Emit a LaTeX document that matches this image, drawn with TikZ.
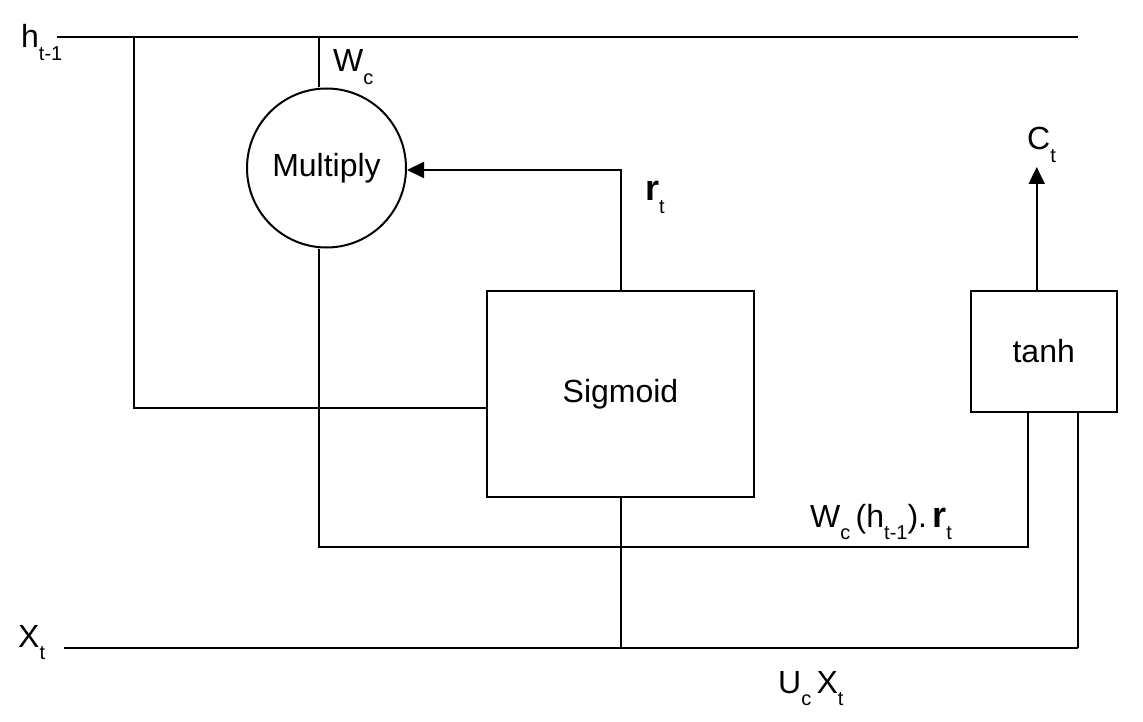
\documentclass[tikz,border=0pt]{standalone}
\usepackage{fontspec}
\setmainfont{Liberation Sans}
\usetikzlibrary{arrows.meta,positioning}
\newcommand{\sbs}[1]{\raisebox{-0.75ex}{\fontsize{20}{20}\selectfont #1}}
\newcommand{\rbig}{{\fontsize{36}{36}\selectfont\textbf{r}}}

\begin{document}
\begin{tikzpicture}[
  x=1pt,y=-1pt,
  every node/.style={font=\fontsize{32}{34}\selectfont},
  wire/.style={line width=2pt,color=black},
  gate/.style={draw,line width=2pt,minimum width=0pt,minimum height=0pt,inner sep=0pt},
  arr/.style={-{Triangle[length=17pt,width=16pt]},line width=2pt}
]
  \useasboundingbox (0,0) rectangle (1143,722);

  % blocks
  \node[gate,circle,minimum size=159pt] (mult) at (326.5,168) {Multiply};
  \node[gate,minimum width=267pt,minimum height=206pt] (sig) at (620.5,394) {Sigmoid};
  \node[gate,minimum width=146pt,minimum height=121pt] (tanhbox) at (1043.7,351.5) {tanh};

  % rails
  \coordinate (hin) at (57,37);
  \coordinate (hout) at (1078,37);
  \coordinate (xin) at (64,648);
  \coordinate (xout) at (1078,648);
  \coordinate (hL) at (134,37);
  \coordinate (hW) at (319,37);
  \coordinate (ct) at (1036.7,167);

  % labels
  \node[anchor=base west,inner sep=0pt] (hlab) at (21,48) {h\sbs{t-1}};
  \node[anchor=base west,inner sep=0pt] (wlab) at (333,72) {W\sbs{c}};
  \node[anchor=base west,inner sep=0pt] (rlab) at (645,201) {\rbig\sbs{t}};
  \node[anchor=base west,inner sep=0pt] (clab) at (1027,150) {C\sbs{t}};
  \node[anchor=base west,inner sep=0pt] (xlab) at (18,647) {X\sbs{t}};
  \node[anchor=base west,inner sep=0pt] (wrlab) at (810,527)
    {W\sbs{c}\,(h\sbs{t-1}).\,\rbig\sbs{t}};
  \node[anchor=base west,inner sep=0pt] (uxlab) at (778,693) {U\sbs{c}\,X\sbs{t}};

  \draw[wire] (hin) -- (hout);
  \draw[wire] (xin) -- (xout);
  \draw[wire] (hL) |- ([yshift=-14pt]sig.west);
  \draw[wire] (hW) -- (hW |- mult.north);
  \draw[wire] (hW |- mult.south) |- (1027.7,547) -- (1027.7,0 |- tanhbox.south);
  \draw[wire] (xout) -- (xout |- tanhbox.south);
  \draw[wire] (sig.south) -- (sig.south |- xin);
  \draw[arr] (sig.north) |- ([yshift=-2pt]mult.east);
  \draw[arr] (ct |- tanhbox.north) -- (ct);
\end{tikzpicture}
\end{document}
